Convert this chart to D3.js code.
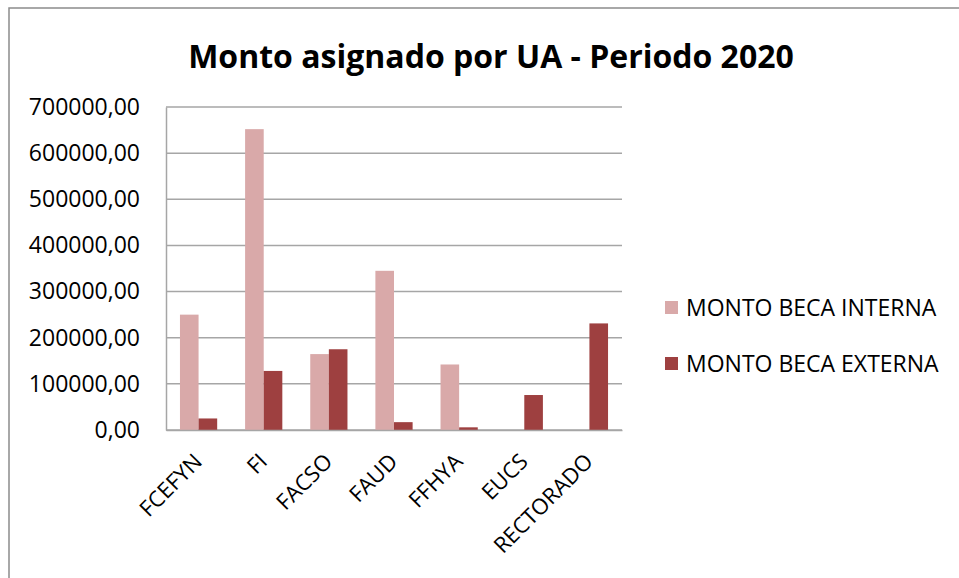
<!DOCTYPE html>
<html>
<head>
<meta charset="utf-8">
<script src="https://cdn.jsdelivr.net/npm/d3@7"></script>
<style>
  html, body { margin: 0; padding: 0; background: #fff; }
  svg { display: block; }
  text { font-family: "Open Sans", "Liberation Sans", sans-serif; fill: #000; }
</style>
</head>
<body>
<svg id="chart" width="959" height="578"></svg>
<script>
const categories = ["FCEFYN", "FI", "FACSO", "FAUD", "FFHYA", "EUCS", "RECTORADO"];
const seriesNames = ["MONTO BECA INTERNA", "MONTO BECA EXTERNA"];
const montoInterna = [250000, 652000, 164500, 345000, 142000, 0, 0];
const montoExterna = [25000, 128000, 175000, 17000, 5800, 75800, 231000];
const yTicks = [0, 100000, 200000, 300000, 400000, 500000, 600000, 700000];
const colors = ["#D9A9A9", "#9E4040"];
const title = "Monto asignado por UA - Periodo 2020";

(function () {
const svg = d3.select("#chart");

// outer chart border (extends beyond the window on right/bottom)
svg.append("rect")
  .attr("x", 9).attr("y", 8).attr("width", 1000).attr("height", 700)
  .attr("fill", "none").attr("stroke", "#8c8c8c").attr("stroke-width", 1.5);

const pLeft = 166, pRight = 622, pTop = 107, pBottom = 430;

const x0 = d3.scaleBand().domain(categories).range([pLeft, pRight])
  .paddingInner(0.4286).paddingOuter(0.2143);
const x1 = d3.scaleBand().domain(seriesNames).range([0, x0.bandwidth()]);
const y = d3.scaleLinear().domain([0, 700000]).range([pBottom, pTop]);

// gridlines
svg.append("g").selectAll("line").data(yTicks).join("line")
  .attr("x1", pLeft).attr("x2", pRight)
  .attr("y1", d => y(d)).attr("y2", d => y(d))
  .attr("stroke", "#a6a6a6").attr("stroke-width", 1.5);

// y axis
const fmt = d => d3.format(".2f")(d).replace(".", ",");
const yAxis = d3.axisLeft(y).tickValues(yTicks).tickFormat(fmt).tickSize(0).tickPadding(26);
const gy = svg.append("g").attr("transform", `translate(${pLeft},0)`).call(yAxis);
gy.select(".domain").attr("stroke", "#a6a6a6").attr("stroke-width", 1.5);
gy.selectAll("text").attr("font-size", 23).attr("fill", "#000")
  .style("font-family", '"Open Sans", sans-serif');

// bars
const rows = categories.map((c, i) => ({ cat: c, vals: [montoInterna[i], montoExterna[i]] }));
const g = svg.append("g");
rows.forEach(r => {
  r.vals.forEach((v, j) => {
    if (v <= 0) return;
    g.append("rect")
      .attr("x", x0(r.cat) + x1(seriesNames[j]))
      .attr("y", y(v))
      .attr("width", x1.bandwidth())
      .attr("height", y(0) - y(v))
      .attr("fill", colors[j]);
  });
});

// x axis line
const xAxis = d3.axisBottom(x0).tickSize(0).tickPadding(0);
const gx = svg.append("g").attr("transform", `translate(0,${pBottom})`).call(xAxis);
gx.select(".domain").attr("stroke", "#a6a6a6").attr("stroke-width", 1.5);
gx.selectAll(".tick text")
  .attr("font-size", 22)
  .attr("fill", "#000")
  .attr("text-anchor", "end")
  .attr("dy", 0)
  .attr("y", 0)
  .attr("transform", "translate(5,33) rotate(-45)")
  .style("font-family", '"Open Sans", sans-serif');

// title
svg.append("text")
  .attr("x", 491).attr("y", 68)
  .attr("text-anchor", "middle")
  .attr("font-size", 32).attr("font-weight", "bold")
  .text(title);

// legend
const lg = svg.append("g");
seriesNames.forEach((s, i) => {
  const yy = 301 + i * 56;
  lg.append("rect").attr("x", 665).attr("y", yy).attr("width", 13).attr("height", 13).attr("fill", colors[i]);
  lg.append("text").attr("x", 686).attr("y", yy + 14.5).attr("font-size", 23).text(s);
});
})();
</script>
</body>
</html>
